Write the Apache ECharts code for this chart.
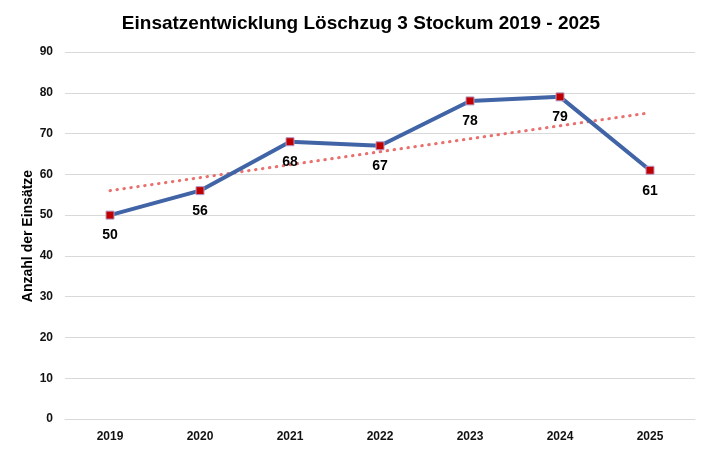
<!DOCTYPE html>
<html>
<head>
<meta charset="utf-8">
<script src="https://cdn.jsdelivr.net/npm/echarts@6/dist/echarts.min.js"></script>
<style>html,body{margin:0;padding:0;background:#fff}#c{width:712px;height:452px}</style>
</head>
<body>
<div id="c"></div>
<script>
var categories = ['2019','2020','2021','2022','2023','2024','2025'];
var einsaetze = [50, 56, 68, 67, 78, 79, 61];
var trendEnds = [['2019', 56.0], ['2025', 75.1]];
var yTicks = {min: 0, max: 90, interval: 10};
var yAxisTitle = 'Anzahl der Einsätze';

var chart = echarts.init(document.getElementById('c'));
chart.setOption({
  animation: false,
  backgroundColor: '#fff',
  title: {
    text: 'Einsatzentwicklung Löschzug 3 Stockum 2019 - 2025',
    left: 356, top: 9, textAlign: 'center',
    textStyle: {fontFamily: 'Liberation Sans, Arial', fontSize: 19, fontWeight: 'bold', color: '#000'}
  },
  graphic: [{
    type: 'text', x: 28, y: 236, rotation: Math.PI / 2,
    style: {text: yAxisTitle, fill: '#000', font: 'bold 14px "Liberation Sans", Arial', textAlign: 'center', textVerticalAlign: 'middle'}
  }],
  grid: {left: 65, right: 17, top: 52, bottom: 33},
  xAxis: {
    type: 'category', data: categories, boundaryGap: true,
    axisLine: {lineStyle: {color: '#d9d9d9'}},
    axisTick: {show: false},
    axisLabel: {margin: 12, fontFamily: 'Liberation Sans, Arial', fontSize: 12, fontWeight: 'bold', color: '#111'}
  },
  yAxis: {
    type: 'value', min: yTicks.min, max: yTicks.max, interval: yTicks.interval,
    axisLine: {show: false}, axisTick: {show: false},
    axisLabel: {margin: 12, fontFamily: 'Liberation Sans, Arial', fontSize: 12, fontWeight: 'bold', color: '#111'},
    splitLine: {lineStyle: {color: '#d9d9d9'}}
  },
  series: [
    {
      type: 'line', data: trendEnds, symbol: 'none', z: 1,
      lineStyle: {color: '#E8706E', width: 3, type: [0.5, 6.5], cap: 'round'}
    },
    {
      type: 'line', data: einsaetze, z: 3,
      symbol: 'rect', symbolSize: 8,
      itemStyle: {color: '#C00000', borderColor: '#B49CC8', borderWidth: 1},
      lineStyle: {color: '#4064A6', width: 4},
      label: {show: true, position: 'bottom', distance: 9, fontFamily: 'Liberation Sans, Arial', fontSize: 14, fontWeight: 'bold', color: '#000'}
    }
  ]
});
</script>
</body>
</html>
